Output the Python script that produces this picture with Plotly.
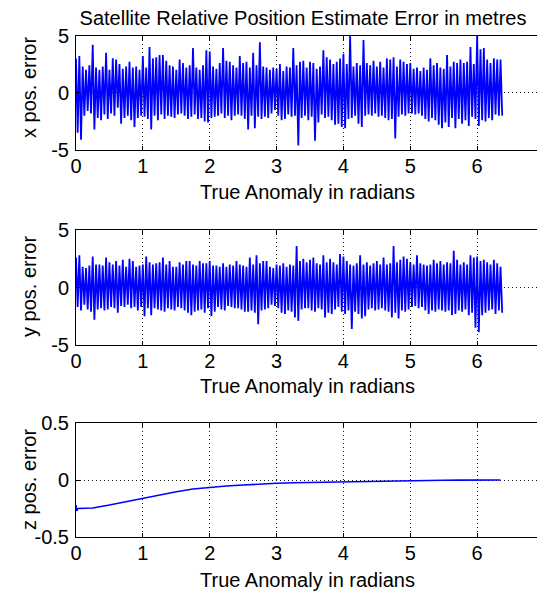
import plotly.graph_objects as go

# ---------------- data ----------------
# sample positions (true anomaly, rad) for the noisy x / y error traces
anomaly = [round(0.05 * i, 2) for i in range(128)]

# x position error: local peak (upper) and trough (lower) per sample slot
x_err_upper = [3.0, 3.2, 2.3, 2.0, 2.4, 4.2, 2.2, 2.0, 2.3, 3.5,
               2.0, 3.0, 2.9, 2.5, 2.1, 2.3, 2.7, 2.2, 2.3, 2.0,
               3.2, 2.2, 4.0, 3.0, 3.1, 3.3, 3.3, 2.8, 2.4, 2.3,
               2.0, 2.9, 2.6, 2.2, 2.4, 3.9, 2.2, 2.0, 2.4, 3.7,
               3.6, 2.3, 2.1, 2.6, 3.9, 2.8, 2.7, 2.4, 2.2, 3.2,
               2.6, 2.7, 2.2, 3.5, 2.4, 4.4, 2.3, 2.2, 2.0, 2.2,
               2.1, 2.5, 1.9, 2.3, 2.2, 3.9, 2.4, 2.7, 2.8, 2.2,
               2.7, 2.6, 2.1, 2.3, 3.7, 3.1, 2.9, 2.5, 2.7, 3.0,
               3.4, 2.5, 5.0, 2.3, 2.6, 2.4, 4.6, 2.6, 2.4, 2.8,
               2.3, 2.7, 2.2, 3.0, 2.9, 3.1, 2.3, 2.9, 2.7, 2.5,
               2.6, 2.1, 2.2, 1.9, 2.2, 2.0, 3.0, 2.4, 2.6, 2.2,
               2.1, 3.3, 2.3, 2.7, 2.6, 2.9, 2.6, 2.7, 4.0, 2.5,
               5.0, 3.8, 3.9, 2.9, 2.6, 3.0, 2.9, 2.9]
x_err_lower = [-3.5, -4.1, -2.0, -1.6, -1.8, -3.2, -2.2, -2.4, -1.9, -2.3,
               -1.8, -2.0, -1.3, -2.7, -2.2, -2.0, -2.4, -3.0, -2.2, -2.0,
               -2.1, -2.3, -3.2, -2.0, -2.4, -1.9, -2.3, -2.0, -2.1, -2.2,
               -1.9, -1.8, -2.0, -2.3, -2.1, -1.9, -2.3, -2.2, -2.5, -2.6,
               -2.2, -2.1, -2.0, -1.8, -2.2, -2.0, -2.4, -2.0, -1.9, -2.0,
               -2.3, -3.2, -2.0, -3.1, -2.1, -2.3, -2.1, -2.2, -1.8, -1.5,
               -2.0, -2.4, -2.3, -1.9, -2.1, -2.0, -4.6, -2.2, -2.0, -2.4,
               -2.1, -4.2, -2.6, -1.9, -2.2, -2.1, -2.4, -2.8, -2.7, -3.0,
               -3.1, -2.3, -2.2, -2.0, -2.7, -3.0, -2.0, -1.9, -2.0, -1.8,
               -2.1, -2.0, -2.2, -2.4, -2.3, -4.0, -2.1, -1.9, -2.0, -1.8,
               -1.8, -1.9, -1.8, -2.0, -2.3, -2.5, -2.2, -2.4, -2.8, -3.1,
               -2.6, -3.0, -2.2, -3.1, -2.3, -2.7, -2.4, -2.9, -2.1, -2.3,
               -2.9, -2.4, -2.5, -2.2, -2.4, -1.9, -2.0, -2.0]

# y position error
y_err_upper = [2.6, 2.8, 1.8, 1.7, 1.9, 2.7, 2.0, 2.0, 1.9, 2.6,
               2.2, 2.0, 2.3, 1.9, 2.4, 1.8, 2.5, 2.3, 1.8, 1.9,
               2.0, 2.7, 2.2, 2.0, 2.1, 2.2, 2.6, 2.0, 2.3, 1.8,
               1.8, 2.2, 2.0, 2.3, 2.3, 2.0, 1.9, 2.3, 2.1, 2.1,
               2.3, 1.9, 1.9, 1.8, 2.1, 1.8, 2.0, 1.9, 2.3, 2.0,
               1.9, 1.8, 2.6, 2.0, 2.8, 2.1, 2.3, 2.3, 1.8, 1.7,
               2.0, 1.9, 2.1, 1.8, 2.0, 1.9, 3.6, 2.3, 2.5, 2.2,
               2.4, 2.6, 2.1, 2.0, 2.8, 2.2, 2.5, 2.2, 2.0, 2.9,
               2.7, 2.3, 2.0, 1.9, 2.1, 2.8, 2.0, 2.2, 1.9, 2.1,
               2.3, 2.0, 2.6, 2.0, 2.1, 3.6, 2.2, 2.4, 2.7, 2.5,
               2.2, 2.0, 2.8, 2.1, 2.0, 1.9, 2.0, 2.4, 2.1, 2.3,
               2.0, 2.2, 2.1, 3.2, 2.4, 2.0, 2.2, 2.0, 2.8, 2.6,
               2.7, 2.3, 2.4, 2.2, 2.0, 2.4, 2.1, 1.8]
y_err_lower = [-1.7, -2.0, -1.5, -1.9, -2.1, -2.8, -1.9, -1.8, -2.0, -1.9,
               -1.7, -1.8, -2.2, -1.6, -1.7, -1.5, -1.8, -1.7, -2.0, -1.7,
               -2.5, -1.8, -2.4, -1.8, -1.9, -2.0, -2.1, -1.8, -1.9, -2.0,
               -1.7, -1.8, -2.0, -2.2, -2.4, -2.1, -2.0, -1.9, -2.2, -1.8,
               -2.5, -2.1, -1.7, -1.9, -2.0, -1.6, -1.7, -1.8, -1.8, -1.9,
               -2.1, -2.1, -2.0, -2.2, -3.2, -2.0, -1.9, -1.8, -1.5, -1.6,
               -1.8, -2.2, -2.3, -2.0, -2.1, -2.6, -2.9, -1.9, -1.8, -1.8,
               -2.0, -2.1, -1.8, -1.9, -2.6, -2.2, -2.3, -1.9, -1.7, -2.1,
               -2.3, -2.0, -3.6, -2.1, -2.3, -2.7, -2.5, -1.9, -1.8, -2.0,
               -1.9, -1.8, -2.0, -2.1, -2.6, -2.2, -2.7, -2.0, -2.1, -1.9,
               -1.7, -1.6, -1.8, -1.7, -2.0, -2.3, -2.0, -2.1, -1.9, -2.0,
               -2.1, -2.0, -2.4, -2.3, -2.0, -2.1, -1.9, -2.4, -2.2, -3.5,
               -3.9, -2.4, -2.2, -2.0, -1.9, -2.3, -2.0, -2.2]

# z position error (smooth convergence)
z_anomaly = [0.0, 0.01, 0.03, 0.25, 0.5, 0.75, 1.0, 1.25, 1.5, 1.75,
             2.0, 2.25, 2.5, 2.75, 3.0, 3.25, 3.5, 3.75, 4.0, 4.25,
             4.5, 4.75, 5.0, 5.25, 5.5, 5.75, 6.0, 6.35]
z_err = [-0.22, -0.27, -0.25, -0.245, -0.22, -0.19, -0.165, -0.132, -0.103, -0.079,
         -0.065, -0.053, -0.044, -0.035, -0.029, -0.024, -0.021, -0.018, -0.015, -0.013,
         -0.011, -0.010, -0.008, -0.004, -0.002, -0.001, 0.0, 0.0]

x_ticks = [0, 1, 2, 3, 4, 5, 6, 7]
big_ticks = [-5, 0, 5]
big_text = ["-5", "0", "5"]
small_ticks = [-0.5, 0, 0.5]
small_text = ["-0.5", "0", "0.5"]

title_text = "Satellite Relative Position Estimate Error in metres"
x_title = "True Anomaly in radians"
y_titles = ["x pos. error", "y pos. error", "z pos. error"]

# ---------------- figure ----------------
W, H = 545, 596
OFF = 8                      # page body margin offset of the plot div
L = 76 - OFF                 # left edge of the axes box
R = W - (544 - OFF)          # right edge of the axes box
FONT = "Liberation Sans, Arial, sans-serif"
BLUE = "#0000ff"


def zigzag(xs, up, lo):
    px, py = [], []
    for xv, u, l in zip(xs, up, lo):
        px += [xv, xv + 0.025]
        py += [u, l]
    return px, py


fig = go.Figure()
xx, yy = zigzag(anomaly, x_err_upper, x_err_lower)
fig.add_trace(go.Scatter(x=xx, y=yy, mode="lines", line=dict(color=BLUE, width=1.8),
                         xaxis="x", yaxis="y", showlegend=False, hoverinfo="skip"))
xx, yy = zigzag(anomaly, y_err_upper, y_err_lower)
fig.add_trace(go.Scatter(x=xx, y=yy, mode="lines", line=dict(color=BLUE, width=1.8),
                         xaxis="x2", yaxis="y2", showlegend=False, hoverinfo="skip"))
fig.add_trace(go.Scatter(x=z_anomaly, y=z_err, mode="lines", line=dict(color=BLUE, width=1.6),
                         xaxis="x3", yaxis="y3", showlegend=False, hoverinfo="skip"))


def px2py(top, bottom):
    return [1 - (bottom - OFF) / H, 1 - (top - OFF) / H]


common = dict(ticks="inside", ticklen=4, tickcolor="black", showline=True,
              linecolor="black", linewidth=1, mirror="ticks", showgrid=True,
              gridcolor="#111111", griddash="1px,3px", gridwidth=1, zeroline=False,
              automargin=False,
              tickfont=dict(family=FONT, size=20, color="black"))

doms = [px2py(35.5, 150), px2py(230, 345), px2py(423, 537)]
for i, (dom, yt, ytxt, yr) in enumerate([
        (doms[0], big_ticks, big_text, [-5, 5]),
        (doms[1], big_ticks, big_text, [-5, 5]),
        (doms[2], small_ticks, small_text, [-0.5, 0.5])]):
    sfx = "" if i == 0 else str(i + 1)
    fig.layout["xaxis" + sfx] = dict(common, domain=[0, 1], range=[0, 7],
                                     tickvals=x_ticks, anchor="y" + sfx,
                                     ticklabelstandoff=-2)
    fig.layout["yaxis" + sfx] = dict(common, domain=dom, range=yr, tickvals=yt,
                                     ticktext=ytxt, anchor="x" + sfx,
                                     ticklabelstandoff=2)

annos = []
pw = W - L - R
for ypix in [192, 386, 580]:
    annos.append(dict(text=x_title, xref="paper", yref="paper", x=(307 - OFF - L) / pw,
                      y=1 - (ypix - OFF) / H,
                      xanchor="center", yanchor="middle", showarrow=False,
                      font=dict(family=FONT, size=20, color="black")))
for ytxt, ypix in zip(y_titles, [88, 287, 480]):
    annos.append(dict(text=ytxt, xref="paper", yref="paper", x=(29 - OFF - L) / pw,
                      y=1 - (ypix - OFF) / H,
                      xanchor="center", yanchor="middle", textangle=-90, showarrow=False,
                      font=dict(family=FONT, size=20, color="black")))

fig.update_layout(
    width=W, height=H, margin=dict(l=L, r=R, t=0, b=0, autoexpand=False),
    paper_bgcolor="white", plot_bgcolor="white",
    title=dict(text=title_text, x=(303 - OFF) / W, xref="container", xanchor="center",
               y=1 - (18 - OFF) / H, yref="container", yanchor="middle",
               font=dict(family=FONT, size=20, color="black")),
    annotations=annos, showlegend=False,
)

fig.write_html("out.html")
